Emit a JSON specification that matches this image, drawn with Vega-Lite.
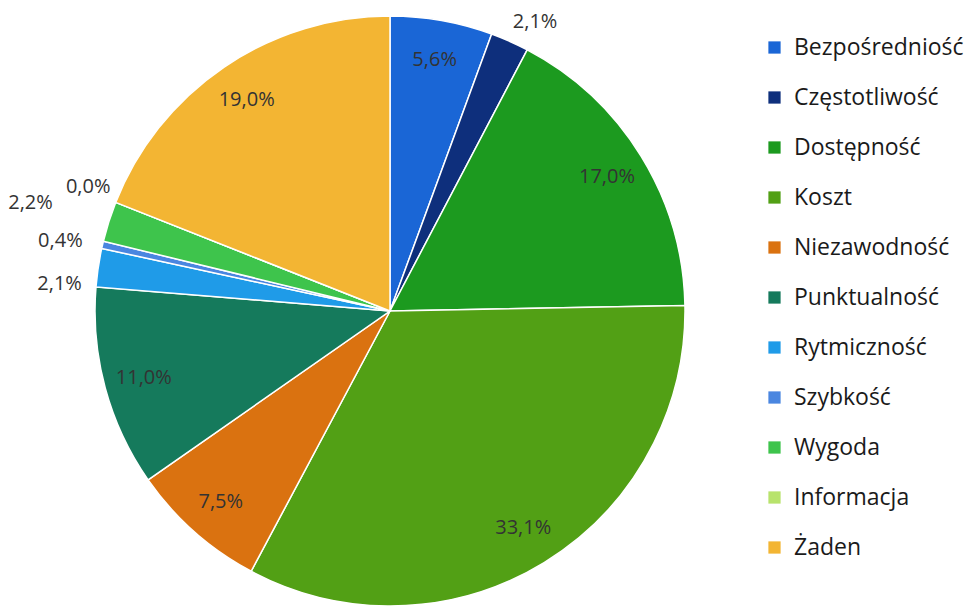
{
  "$schema": "https://vega.github.io/schema/vega-lite/v6.json",
  "autosize": "none",
  "width": 780,
  "height": 590,
  "padding": {"top": 16, "left": 0, "right": 190, "bottom": 0},
  "background": "white",
  "config": {"view": {"stroke": null}, "font": "Open Sans"},
  "data": {
    "values": [
      {"n": 1, "name": "Bezpośredniość", "v": 5.6, "label": "5,6%"},
      {"n": 2, "name": "Częstotliwość", "v": 2.1, "label": "2,1%"},
      {"n": 3, "name": "Dostępność", "v": 17.0, "label": "17,0%"},
      {"n": 4, "name": "Koszt", "v": 33.1, "label": "33,1%"},
      {"n": 5, "name": "Niezawodność", "v": 7.5, "label": "7,5%"},
      {"n": 6, "name": "Punktualność", "v": 11.0, "label": "11,0%"},
      {"n": 7, "name": "Rytmiczność", "v": 2.1, "label": "2,1%"},
      {"n": 8, "name": "Szybkość", "v": 0.4, "label": "0,4%"},
      {"n": 9, "name": "Wygoda", "v": 2.2, "label": "2,2%"},
      {"n": 10, "name": "Informacja", "v": 0.0, "label": "0,0%"},
      {"n": 11, "name": "Żaden", "v": 19.0, "label": "19,0%"}
    ]
  },
  "encoding": {
    "theta": {"field": "v", "type": "quantitative", "stack": true},
    "order": {"field": "n", "type": "quantitative"}
  },
  "layer": [
    {
      "mark": {"type": "arc", "outerRadius": 295, "stroke": "white", "strokeWidth": 1.5},
      "encoding": {
        "color": {
          "field": "name",
          "type": "nominal",
          "scale": {
            "domain": ["Bezpośredniość", "Częstotliwość", "Dostępność", "Koszt", "Niezawodność", "Punktualność", "Rytmiczność", "Szybkość", "Wygoda", "Informacja", "Żaden"],
            "range": ["#1a66d6", "#0e2f7c", "#1c9a1f", "#52a015", "#da7210", "#157a5c", "#1f9be8", "#4a86e0", "#3ec44c", "#b8e36c", "#f3b533"]
          },
          "legend": {
            "title": null,
            "orient": "none",
            "legendX": 763,
            "legendY": 20,
            "symbolType": "square",
            "symbolSize": 150,
            "symbolStrokeWidth": 0,
            "labelFontSize": 23,
            "labelFont": "Open Sans",
            "labelColor": "#1a1a1a",
            "labelOffset": 8,
            "rowPadding": 26,
            "labelLimit": 300
          }
        }
      }
    },
    {
      "mark": {"type": "text", "radius": 255, "fontSize": 20, "color": "#333333", "align": "center", "baseline": "middle"},
      "encoding": {
        "text": {"condition": {"test": "indexof(['Bezpośredniość','Dostępność','Koszt','Niezawodność','Punktualność','Żaden'], datum.name) >= 0", "field": "label"}, "value": ""}
      }
    },
    {
      "mark": {"type": "text", "radius": 323, "dx": 14, "dy": 6, "fontSize": 20, "color": "#333333", "align": "center", "baseline": "middle"},
      "encoding": {"text": {"condition": {"test": "datum.name == 'Częstotliwość'", "field": "label"}, "value": ""}}
    },
    {
      "mark": {"type": "text", "radius": 330, "dx": -4, "dy": 22, "fontSize": 20, "color": "#333333", "align": "center", "baseline": "middle"},
      "encoding": {"text": {"condition": {"test": "datum.name == 'Rytmiczność'", "field": "label"}, "value": ""}}
    },
    {
      "mark": {"type": "text", "radius": 330, "dx": -8, "dy": 4, "fontSize": 20, "color": "#333333", "align": "center", "baseline": "middle"},
      "encoding": {"text": {"condition": {"test": "datum.name == 'Szybkość'", "field": "label"}, "value": ""}}
    },
    {
      "mark": {"type": "text", "radius": 330, "dx": -45, "dy": -8, "fontSize": 20, "color": "#333333", "align": "center", "baseline": "middle"},
      "encoding": {"text": {"condition": {"test": "datum.name == 'Wygoda'", "field": "label"}, "value": ""}}
    },
    {
      "mark": {"type": "text", "radius": 330, "dx": 5, "dy": -3, "fontSize": 20, "color": "#333333", "align": "center", "baseline": "middle"},
      "encoding": {"text": {"condition": {"test": "datum.name == 'Informacja'", "field": "label"}, "value": ""}}
    }
  ]
}
